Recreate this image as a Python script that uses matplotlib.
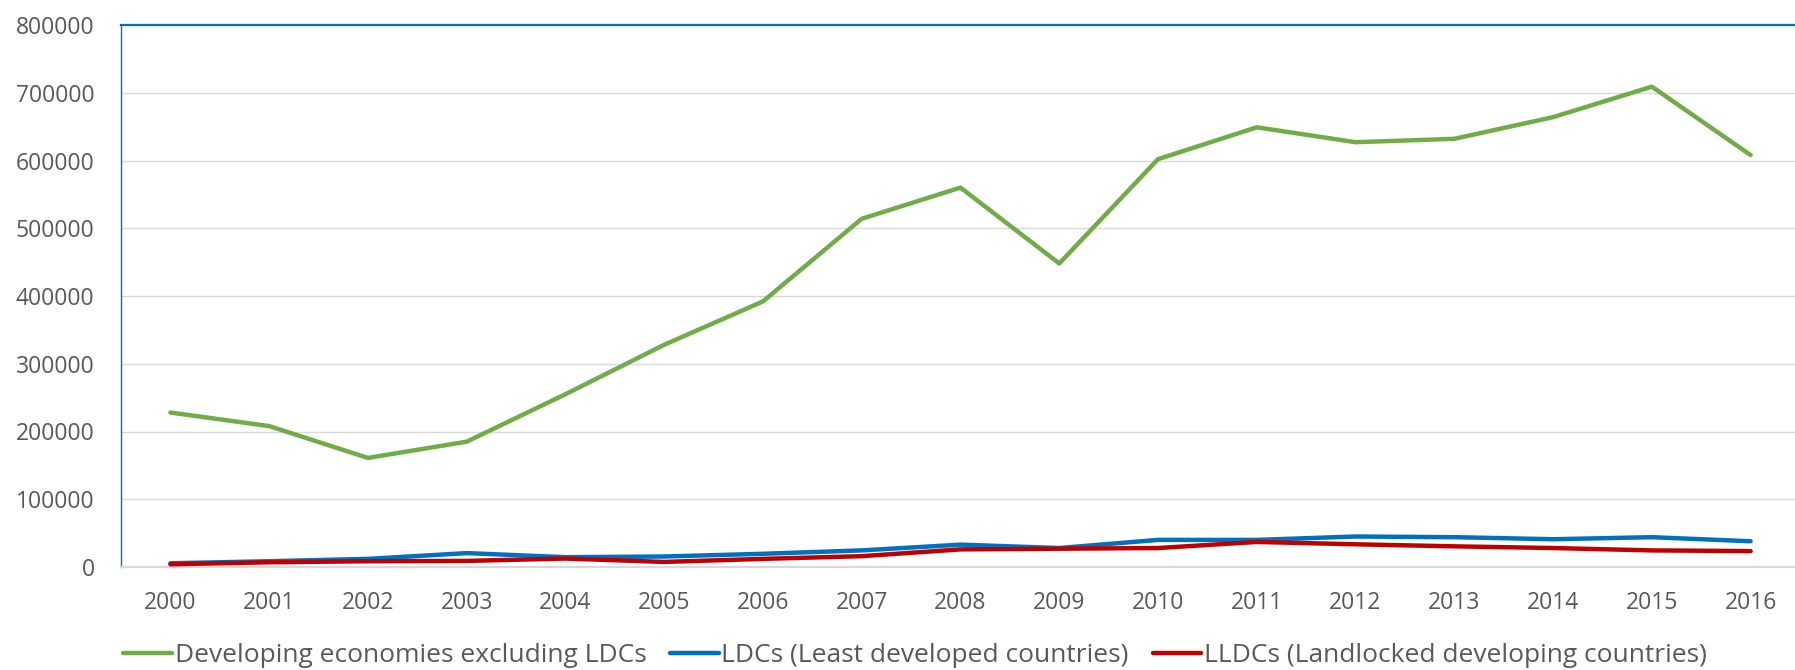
import matplotlib
matplotlib.use("Agg")
import matplotlib.pyplot as plt
from matplotlib.ticker import MultipleLocator, FuncFormatter

years = [str(y) for y in range(2000, 2017)]

developing_excl_ldcs = [228000, 208000, 161000, 185000, 255000, 328000, 392000,
                        514000, 560000, 448000, 602000, 649000, 627000, 632000,
                        664000, 709000, 608000]
ldcs = [5500, 8500, 12000, 20500, 14500, 15500, 19500, 24500, 33000, 28000,
        40000, 40000, 45000, 44000, 41000, 44000, 38000]
lldcs = [4000, 7000, 8500, 9000, 12500, 7500, 12000, 16000, 26000, 27000,
         28000, 37000, 33500, 30500, 28000, 24500, 23500]

series_labels = ["Developing economies excluding LDCs",
                 "LDCs (Least developed countries)",
                 "LLDCs (Landlocked developing countries)"]
series_colors = ["#70ad47", "#0070c0", "#c00000"]

plt.rcParams["font.family"] = ["Open Sans", "DejaVu Sans"]
text_color = "#595959"

fig = plt.figure(figsize=(17.95, 6.70), dpi=100)
ax = fig.add_axes([121 / 1795, 103 / 670, 1679 / 1795, 542 / 670])

x = list(range(len(years)))
for values, label, color in zip([developing_excl_ldcs, ldcs, lldcs],
                                series_labels, series_colors):
    ax.plot(x, values, color=color, lw=3.2, label=label,
            solid_capstyle="round", solid_joinstyle="round", zorder=3)

ax.set_xlim(-0.5, len(years) - 0.5)
ax.set_ylim(0, 800000)
ax.yaxis.set_major_locator(MultipleLocator(100000))
ax.yaxis.set_major_formatter(FuncFormatter(lambda v, p: f"{int(v)}"))
ax.set_xticks(x)
ax.set_xticklabels(years)

ax.grid(axis="y", color="#d9d9d9", lw=1.0, zorder=0)
ax.set_axisbelow(True)

ax.spines["right"].set_visible(False)
ax.spines["left"].set_color("#0070c0")
ax.spines["left"].set_linewidth(1.0)
ax.spines["top"].set_color("#0070c0")
ax.spines["top"].set_linewidth(1.6)
ax.spines["bottom"].set_color("#d9d9d9")
ax.spines["bottom"].set_linewidth(1.6)

ax.tick_params(axis="y", length=0, pad=19, labelsize=16.5, labelcolor=text_color)
ax.tick_params(axis="x", length=0, pad=17, labelsize=16.5, labelcolor=text_color)

fig.legend(loc="center", bbox_to_anchor=(915 / 1795, 14 / 670), ncol=3,
           frameon=False, fontsize=19, labelcolor=text_color,
           handlelength=1.85, handletextpad=0.1, columnspacing=0.9,
           borderpad=0, borderaxespad=0)

fig.savefig("out.png", dpi=100)
